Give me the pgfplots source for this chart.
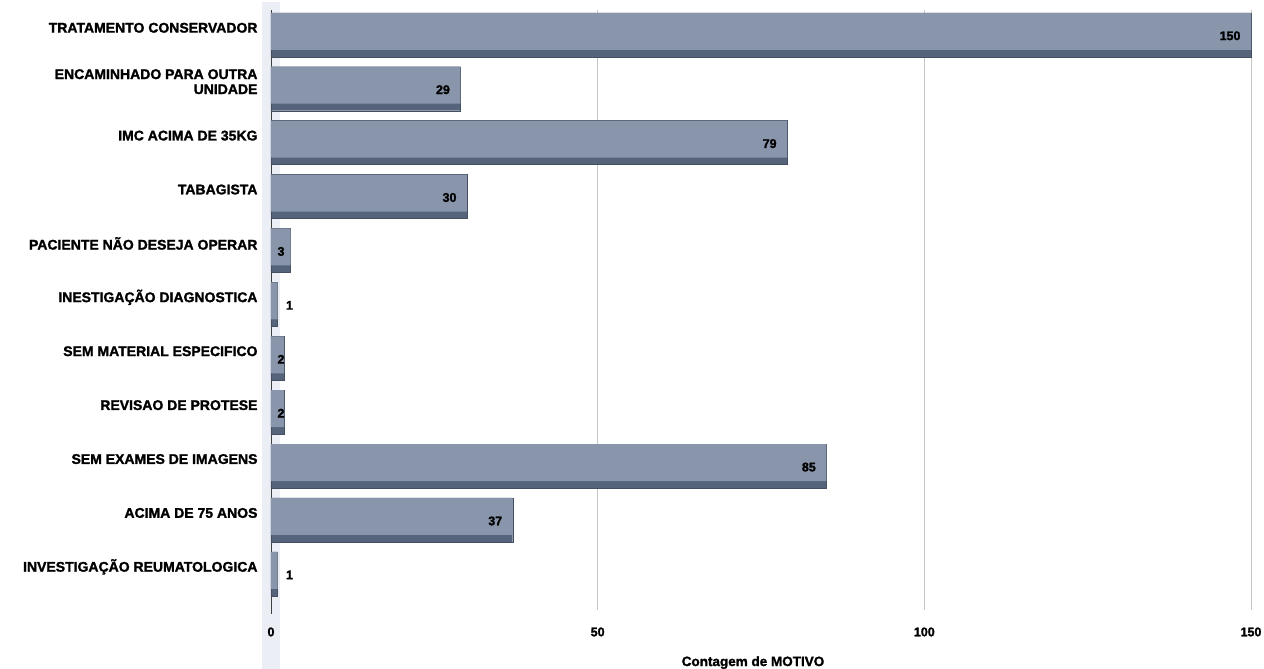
\documentclass[border=0pt]{standalone}
\usepackage{pgfplots}
\pgfplotsset{compat=1.18}
\usepackage{fontspec}
\setmainfont{Liberation Sans}[BoldFeatures={FakeBold=1.6}]
\definecolor{barface}{HTML}{8895AA}
\definecolor{bardark}{HTML}{55647B}
\definecolor{wall}{HTML}{ECEEF5}
\begin{document}
\begin{tikzpicture}
\path[use as bounding box] (-271pt,-59pt) rectangle (993pt,610pt);
\fill[wall] (-9pt,-59pt) rectangle (9pt,608pt);
\begin{axis}[
  at={(0pt,0pt)}, anchor=south west,
  scale only axis, width=980pt, height=600pt,
  xmin=0, xmax=150, ymin=-0.46, ymax=10.67,
  y dir=reverse, clip=false,
  axis line style={draw=none},
  xtick={0,50,100,150},
  major tick length=0pt,
  xmajorgrids, grid style={gray!45, line width=0.5pt},
  ytick={0,...,10},
  yticklabels={TRATAMENTO CONSERVADOR,{ENCAMINHADO PARA OUTRA\\UNIDADE},IMC ACIMA DE 35KG,TABAGISTA,PACIENTE NÃO DESEJA OPERAR,INESTIGAÇÃO DIAGNOSTICA,SEM MATERIAL ESPECIFICO,REVISAO DE PROTESE,SEM EXAMES DE IMAGENS,ACIMA DE 75 ANOS,INVESTIGAÇÃO REUMATOLOGICA},
  yticklabel style={font=\fontsize{14}{15}\selectfont\bfseries, align=right, xshift=-10pt, yshift=7pt},
  xticklabel style={font=\fontsize{12.5}{13}\selectfont\bfseries, yshift=-14pt},
  /pgf/number format/assume math mode=true,
  xlabel={Contagem de MOTIVO},
  xlabel style={font=\fontsize{13.5}{14}\selectfont\bfseries, yshift=-13pt, xshift=-8pt},
]
\draw[black!75, line width=0.8pt] (axis cs:0,-0.46) -- (axis cs:0,10.75);
\addplot[xbar, bar width=44pt, bar shift=0pt, fill=bardark, draw=bardark!80!black] coordinates {
(150,0) (29,1) (79,2) (30,3) (3,4) (1,5) (2,6) (2,7) (85,8) (37,9) (1,10)};
\addplot[xbar, bar width=37pt, bar shift=3.5pt, fill=barface, draw=none] coordinates {
(150,0) (29,1) (79,2) (30,3) (3,4) (1,5) (2,6) (2,7) (85,8) (37,9) (1,10)};
\addplot[draw=none, mark=none, nodes near coords, point meta=explicit symbolic,
  nodes near coords style={anchor=east, xshift=-7pt, yshift=-1pt, font=\fontsize{12.5}{13}\selectfont\bfseries}]
  coordinates {(150,0)[150] (29,1)[29] (79,2)[79] (30,3)[30] (85,8)[85] (37,9)[37]};
\addplot[draw=none, mark=none, nodes near coords, point meta=explicit symbolic,
  nodes near coords style={anchor=west, xshift=3pt, yshift=-1pt, font=\fontsize{12.5}{13}\selectfont\bfseries}]
  coordinates {(0,4)[3] (0,6)[2] (0,7)[2]};
\addplot[draw=none, mark=none, nodes near coords, point meta=explicit symbolic,
  nodes near coords style={anchor=west, xshift=5pt, yshift=-1pt, font=\fontsize{12.5}{13}\selectfont\bfseries}]
  coordinates {(1,5)[1] (1,10)[1]};
\end{axis}
\end{tikzpicture}
\end{document}
